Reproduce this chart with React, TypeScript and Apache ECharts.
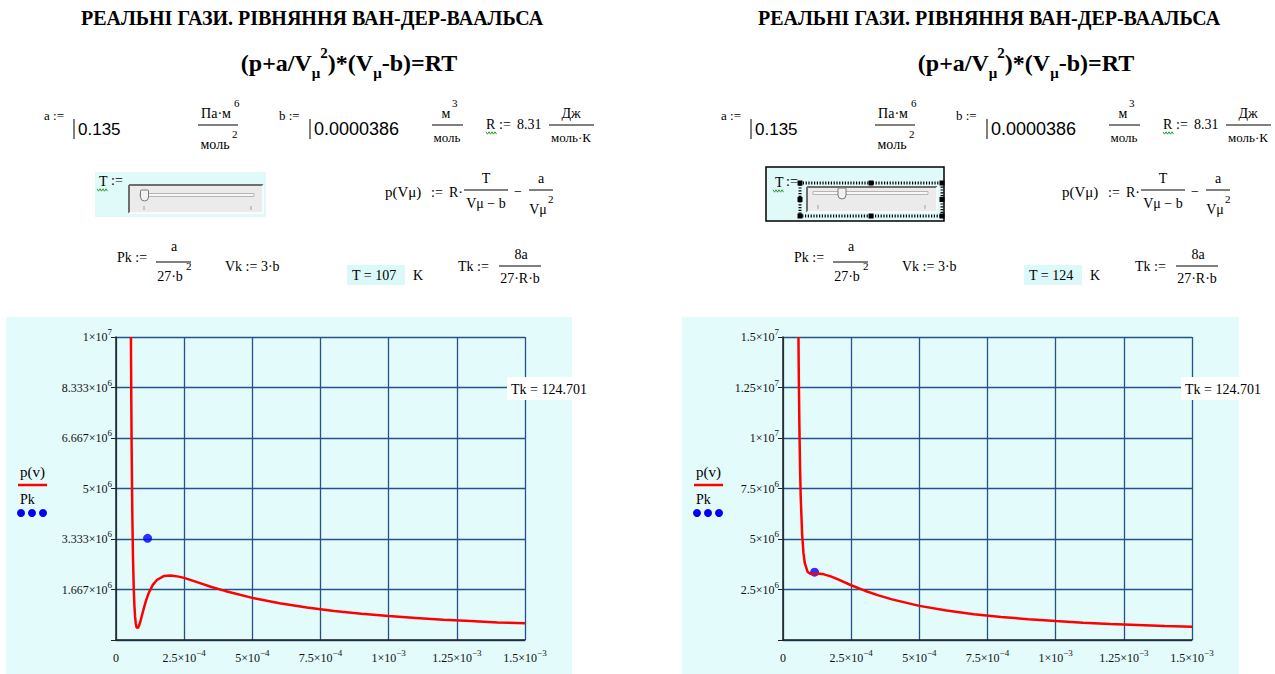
import React, { useEffect, useRef } from "react";
import * as echarts from "echarts";

const SERIF = "'Liberation Serif', 'Times New Roman', serif";
const SANS = "'Liberation Sans', Arial, sans-serif";

// Isotherm p(V) at T = 107 K (molar volume m^3/mol, pressure Pa)
const volume107 = [
  5.47e-5, 5.6e-5, 5.75e-5, 6.0e-5, 6.25e-5, 6.5e-5, 6.75e-5, 7.0e-5, 7.25e-5, 7.5e-5,
  8.0e-5, 8.5e-5, 9.0e-5, 9.5e-5, 1.0e-4, 1.1e-4, 1.2e-4, 1.35e-4, 1.5e-4, 1.75e-4,
  2.0e-4, 2.25e-4, 2.5e-4, 3.0e-4, 3.5e-4, 4.0e-4, 5.0e-4, 6.0e-4, 7.0e-4, 8.0e-4,
  9.0e-4, 1.0e-3, 1.1e-3, 1.2e-3, 1.3e-3, 1.4e-3, 1.5e-3,
];
const pressure107 = [
  1.0e7, 8.05e6, 6.21e6, 4.05e6, 2.64e6, 1.73e6, 1.14e6, 7.7e5, 5.45e5, 4.3e5,
  3.9e5, 4.8e5, 6.3e5, 8.1e5, 9.8e5, 1.3e6, 1.55e6, 1.82e6, 1.98e6, 2.11e6,
  2.13e6, 2.1e6, 2.05e6, 1.9e6, 1.75e6, 1.62e6, 1.39e6, 1.21e6, 1.07e6, 9.6e5,
  8.7e5, 7.9e5, 7.3e5, 6.7e5, 6.3e5, 5.8e5, 5.5e5,
];

// Isotherm p(V) at T = 124 K
const volume124 = [
  5.67e-5, 5.8e-5, 6.0e-5, 6.25e-5, 6.5e-5, 7.0e-5, 7.5e-5, 8.0e-5, 9.0e-5, 1.0e-4,
  1.1e-4, 1.2e-4, 1.35e-4, 1.5e-4, 1.75e-4, 2.0e-4, 2.5e-4, 3.0e-4, 3.5e-4, 4.0e-4,
  5.0e-4, 6.0e-4, 7.0e-4, 8.0e-4, 9.0e-4, 1.0e-3, 1.1e-3, 1.2e-3, 1.3e-3, 1.4e-3, 1.5e-3,
];
const pressure124 = [
  1.5e7, 1.3e7, 1.065e7, 8.56e6, 7.08e6, 5.27e6, 4.31e6, 3.8e6, 3.38e6, 3.28e6,
  3.28e6, 3.28e6, 3.28e6, 3.25e6, 3.15e6, 3.01e6, 2.71e6, 2.44e6, 2.21e6, 2.01e6,
  1.69e6, 1.46e6, 1.28e6, 1.14e6, 1.03e6, 9.4e5, 8.6e5, 7.9e5, 7.4e5, 6.9e5, 6.5e5,
];

// Critical point (Vk, Pk)
const criticalVolume = [1.158e-4];
const criticalPressure = [3.356e6];

// Tick labels: mantissa and power of ten
const xMantissa = ["0", "2.5", "5", "7.5", "1", "1.25", "1.5"];
const xExponent = ["", "−4", "−4", "−4", "−3", "−3", "−3"];
const yMantissa107 = ["", "1.667", "3.333", "5", "6.667", "8.333", "1"];
const yExponent107 = ["", "6", "6", "6", "6", "6", "7"];
const yMantissa124 = ["", "2.5", "5", "7.5", "1", "1.25", "1.5"];
const yExponent124 = ["", "6", "6", "6", "7", "7", "7"];

const xMax = 1.5e-3;
const yMax107 = 1.0e7;
const yMax124 = 1.5e7;

const tickLabel = (m: string, e: string) =>
  m === "" ? "" : e === "" ? `{z|${m}}` : `{b|${m}×10}{s|${e}}`;

const labelRich = {
  b: { fontSize: 12, fontFamily: SERIF, color: "#111" },
  z: { fontSize: 12, fontFamily: SERIF, color: "#111", padding: [3.5, 0, 3.5, 0] },
  s: { fontSize: 9, fontFamily: SERIF, color: "#111", verticalAlign: "top", padding: [0, 0, 10, 0] },
};

// worksheet text, drawn as a single rich token so that the family is honoured
const txt = (
  text: string,
  x: number,
  y: number,
  o: { size?: number; align?: string; weight?: string; family?: string; z?: number } = {}
) => ({
  type: "text",
  x,
  y,
  z: o.z ?? 10,
  style: {
    text: `{t|${text}}`,
    textAlign: o.align ?? "left",
    textVerticalAlign: "middle",
    rich: {
      t: {
        fontSize: o.size ?? 14,
        fontFamily: o.family ?? SERIF,
        fontWeight: o.weight ?? "normal",
        fill: "#000",
      },
    },
  },
});

const hline = (x1: number, x2: number, y: number, color = "#000", w = 1, z = 10) => ({
  type: "line",
  z,
  shape: { x1, y1: y, x2, y2: y },
  style: { stroke: color, lineWidth: w },
});

const vline = (x: number, y1: number, y2: number, color = "#000", w = 1, z = 10) => ({
  type: "line",
  z,
  shape: { x1: x, y1, x2: x, y2 },
  style: { stroke: color, lineWidth: w },
});

const box = (x1: number, y1: number, x2: number, y2: number, style: any, z = 1) => ({
  type: "rect",
  z,
  shape: { x: x1, y: y1, width: x2 - x1, height: y2 - y1 },
  style,
});

// green squiggle Mathcad puts under redefined built-in names
const squiggle = (x1: number, x2: number, y: number) => {
  const pts: number[][] = [];
  let k = 0;
  for (let x = x1; x <= x2; x += 1.5, k++) pts.push([x, y + (k % 2 ? 1.2 : -1.2)]);
  return { type: "polyline", z: 10, shape: { points: pts }, style: { stroke: "#2f9a2f", lineWidth: 1, fill: null } };
};

const slider = (x1: number, y1: number, x2: number, y2: number, track: number[], thumbX: number, ticks: number[]) => [
  box(x1, y1, x2, y2, { fill: "#ebebeb" }, 5),
  hline(x1, x2, y1, "#6e6e6e", 2, 6),
  vline(x1, y1, y2, "#6e6e6e", 2, 6),
  hline(x1, x2, y2, "#ffffff", 1.5, 6),
  vline(x2, y1, y2, "#ffffff", 1.5, 6),
  box(track[0], track[1] - 1.5, track[2], track[1] + 1.5, { fill: "#f7f7f7", stroke: "#b5b5b5", lineWidth: 1 }, 6),
  {
    type: "rect",
    z: 7,
    shape: { x: thumbX - 4, y: track[1] - 5, width: 8, height: 11, r: [1, 1, 4, 4] },
    style: { fill: "#f2f2f2", stroke: "#7a7a7a", lineWidth: 1 },
  },
  ...ticks.map((t) => vline(t, y2 - 7, y2 - 3, "#a0a0a0", 1, 6)),
];

function worksheet(dx: number, tValue: string) {
  const X = (x: number) => x + dx;
  const els: any[] = [];
  els.push(txt("РЕАЛЬНІ ГАЗИ. РІВНЯННЯ ВАН-ДЕР-ВААЛЬСА", X(312), 18, { size: 20, weight: "bold", align: "center" }));
  els.push({
    type: "text",
    x: X(349),
    y: 63,
    z: 10,
    style: {
      text: "{b|(p+a/V}{sub|μ}{sup|2}{b|)*(V}{sub|μ}{b|-b)=RT}",
      textAlign: "center",
      textVerticalAlign: "middle",
      rich: {
        b: { fontSize: 24, fontWeight: "bold", fontFamily: SERIF, fill: "#000" },
        sup: { fontSize: 15, fontWeight: "bold", fontFamily: SERIF, fill: "#000", verticalAlign: "top", padding: [0, 0, 20, 0] },
        sub: { fontSize: 15, fontWeight: "bold", fontFamily: SERIF, fill: "#000", verticalAlign: "bottom", padding: [20, 0, 0, 0] },
      },
    },
  });

  // constants a, b, R
  els.push(txt("a :=", X(44), 115, { size: 13 }));
  els.push(vline(X(74), 119, 139));
  els.push(txt("0.135", X(78), 129, { size: 17, family: SANS }));
  els.push(txt("Па·м", X(216), 113, { size: 14, align: "center" }));
  els.push(txt("6", X(234), 103, { size: 11 }));
  els.push(hline(X(198), X(238), 125));
  els.push(txt("моль", X(215), 144, { size: 14, align: "center" }));
  els.push(txt("2", X(232), 134, { size: 11 }));

  els.push(txt("b :=", X(279), 115, { size: 13 }));
  els.push(vline(X(310), 119, 139));
  els.push(txt("0.0000386", X(314), 129, { size: 18, family: SANS }));
  els.push(txt("м", X(446), 113, { size: 14, align: "center" }));
  els.push(txt("3", X(452), 103, { size: 11 }));
  els.push(hline(X(432), X(463), 125));
  els.push(txt("моль", X(447), 137, { size: 13, align: "center" }));

  els.push(txt("R", X(486), 124, { size: 14 }));
  els.push(squiggle(X(486), X(497), 133));
  els.push(txt(":=", X(499), 124, { size: 14 }));
  els.push(txt("8.31", X(517), 124, { size: 14 }));
  els.push(txt("Дж", X(571), 113, { size: 14, align: "center" }));
  els.push(hline(X(549), X(594), 125));
  els.push(txt("моль·К", X(571), 137, { size: 13, align: "center" }));

  // p(Vμ) definition
  els.push(txt("p(Vμ)", X(385), 192, { size: 15 }));
  els.push(txt(":=", X(431), 192, { size: 14 }));
  els.push(txt("R·", X(449), 192, { size: 14 }));
  els.push(txt("T", X(486), 178, { size: 14, align: "center" }));
  els.push(hline(X(464), X(508), 190));
  els.push(txt("Vμ − b", X(486), 203, { size: 14, align: "center" }));
  els.push(txt("−", X(518), 191, { size: 14, align: "center" }));
  els.push(txt("a", X(541), 178, { size: 14, align: "center" }));
  els.push(hline(X(529), X(553), 190));
  els.push(txt("Vμ", X(538), 209, { size: 14, align: "center" }));
  els.push(txt("2", X(548), 199, { size: 11 }));

  // critical constants
  els.push(txt("Pk :=", X(117), 257, { size: 14 }));
  els.push(txt("a", X(174), 246, { size: 14, align: "center" }));
  els.push(hline(X(156), X(191), 262));
  els.push(txt("27·b", X(170), 276, { size: 14, align: "center" }));
  els.push(txt("2", X(186), 266, { size: 11 }));
  els.push(txt("Vk := 3·b", X(225), 266, { size: 14 }));
  els.push(box(X(347), 265, X(405), 285, { fill: "#dcf9f9" }, 2));
  els.push(txt(`T = ${tValue}`, X(352), 275, { size: 14 }));
  els.push(txt("K", X(413), 275, { size: 14 }));
  els.push(txt("Tk :=", X(458), 266, { size: 14 }));
  els.push(txt("8a", X(521), 254, { size: 14, align: "center" }));
  els.push(hline(X(499), X(541), 266));
  els.push(txt("27·R·b", X(520), 278, { size: 14, align: "center" }));
  return els;
}

function plotDecor(bgX1: number, bgX2: number, tkX: number) {
  const lx = bgX1 + 12;
  return [
    box(bgX1, 317, bgX2, 674, { fill: "#e4fbfb" }, -5),
    txt("p(v)", lx + 2, 472, { size: 15 }),
    hline(lx, lx + 29, 485, "#ff0000", 2.5),
    txt("Pk", lx + 2, 499, { size: 14 }),
    ...[3, 14, 25].map((d) => ({
      type: "circle",
      z: 10,
      shape: { cx: lx + d, cy: 513, r: 4 },
      style: { fill: "#0000ff" },
    })),
    box(tkX - 4, 377, tkX + 79, 400, { fill: "#ffffff" }, 50),
    txt("Tk = 124.701", tkX, 389, { size: 14, z: 51 }),
  ];
}

const graphics = [
  ...worksheet(0, "107"),
  ...worksheet(677, "124"),
  // slider, left sheet
  box(95, 172, 266, 217, { fill: "#e0fafa" }, 1),
  txt("T", 99, 181, { size: 14 }),
  squiggle(97, 108, 190),
  txt(":=", 111, 180, { size: 14 }),
  ...slider(129, 185, 263, 213, [140, 195, 254], 144.5, [144, 251]),
  // slider, right sheet (selected)
  box(766, 167, 944, 221, { fill: "#e0fafa", stroke: "#000", lineWidth: 1.5 }, 1),
  txt("T", 775, 182, { size: 14 }),
  squiggle(773, 784, 191),
  txt(":=", 786, 181, { size: 14 }),
  box(800, 183, 942, 216, { fill: null, stroke: "#000", lineWidth: 3, lineDash: [1.2, 1.6] }, 4),
  ...[
    [800, 183], [871, 183], [942, 183],
    [800, 199.5], [942, 199.5],
    [800, 216], [871, 216], [942, 216],
  ].map(([cx, cy]) => box(cx - 2.5, cy - 2.5, cx + 2.5, cy + 2.5, { fill: "#000" }, 8)),
  ...slider(807, 187, 937, 212, [813, 193, 928], 842, [818, 925]),
  ...plotDecor(6, 572, 511),
  ...plotDecor(682, 1239, 1185),
];

function axisPair(gridIndex: number, yMax: number, yM: string[], yE: string[]) {
  const axisLine = { show: true, onZero: false, lineStyle: { color: "#222", width: 1.5 } };
  const split = { show: true, lineStyle: { color: "#24528d", width: 1.3 } };
  return {
    x: {
      type: "value",
      gridIndex,
      min: 0,
      max: xMax,
      interval: xMax / 6,
      axisLine,
      axisTick: { show: false },
      splitLine: split,
      axisLabel: {
        margin: 8,
        rich: labelRich,
        formatter: (v: number) => {
          const i = Math.round(v / (xMax / 6));
          return tickLabel(xMantissa[i], xExponent[i]);
        },
      },
    },
    y: {
      type: "value",
      gridIndex,
      min: 0,
      max: yMax,
      interval: yMax / 6,
      axisLine,
      axisTick: { show: true, length: 5, lineStyle: { color: "#222" } },
      splitLine: split,
      axisLabel: {
        margin: 4,
        rich: labelRich,
        formatter: (v: number) => {
          const i = Math.round(v / (yMax / 6));
          return tickLabel(yM[i], yE[i]);
        },
      },
    },
  };
}

export default function App() {
  const ref = useRef<HTMLDivElement>(null);
  useEffect(() => {
    if (!ref.current) return;
    const chart = echarts.init(ref.current, undefined, { renderer: "svg" });
    const a1 = axisPair(0, yMax107, yMantissa107, yExponent107);
    const a2 = axisPair(1, yMax124, yMantissa124, yExponent124);
    chart.setOption({
      animation: false,
      backgroundColor: "#ffffff",
      grid: [
        { left: 116, top: 337, width: 409, height: 303 },
        { left: 783, top: 337, width: 409, height: 303 },
      ],
      xAxis: [a1.x, a2.x],
      yAxis: [a1.y, a2.y],
      series: [
        {
          type: "line",
          xAxisIndex: 0,
          yAxisIndex: 0,
          data: volume107.map((v, i) => [v, pressure107[i]]),
          showSymbol: false,
          lineStyle: { color: "#ff0000", width: 2.5 },
          itemStyle: { color: "#ff0000" },
        },
        {
          type: "scatter",
          xAxisIndex: 0,
          yAxisIndex: 0,
          data: criticalVolume.map((v, i) => [v, criticalPressure[i]]),
          symbolSize: 9,
          itemStyle: { color: "#0000ff" },
        },
        {
          type: "line",
          xAxisIndex: 1,
          yAxisIndex: 1,
          data: volume124.map((v, i) => [v, pressure124[i]]),
          showSymbol: false,
          lineStyle: { color: "#ff0000", width: 2.5 },
          itemStyle: { color: "#ff0000" },
        },
        {
          type: "scatter",
          xAxisIndex: 1,
          yAxisIndex: 1,
          data: criticalVolume.map((v, i) => [v, criticalPressure[i]]),
          symbolSize: 9,
          itemStyle: { color: "#0000ff" },
        },
      ],
      graphic: { elements: graphics },
    });
    return () => chart.dispose();
  }, []);
  return (
    <div
      ref={ref}
      style={{ position: "absolute", left: 0, top: 0, width: 1275, height: 674 }}
    />
  );
}
